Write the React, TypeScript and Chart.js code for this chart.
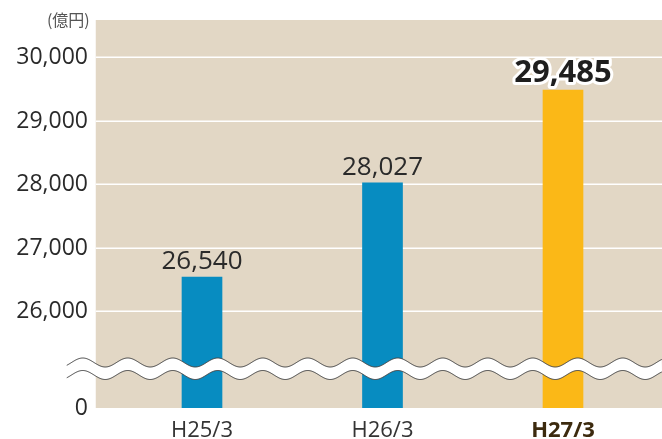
import React, { useEffect, useRef } from "react";
import { Chart, registerables } from "chart.js";

Chart.register(...registerables);

const categories = ["H25/3", "H26/3", "H27/3"];
const values = [26540, 28027, 29485];
const barColors = ["#078cc1", "#078cc1", "#fbb817"];
const yTickValues = [26000, 27000, 28000, 29000, 30000];
const breakBaseValue = 24480; // value shown as "0" below the axis break
const yMaxValue = 30590;
const unitLabel = "(億円)";
const highlightIndex = 2;

const FONT = "'Open Sans', 'Noto Sans', 'Noto Sans CJK JP', sans-serif";
const BG = "#e2d7c5";

const decorPlugin = {
  id: "decor",
  beforeDraw(chart: any) {
    const { ctx, chartArea, scales } = chart;
    const y = scales.y;
    const left = chartArea.left - 16;
    const right = chart.width;
    ctx.save();
    ctx.fillStyle = BG;
    ctx.fillRect(left, chartArea.top, right - left, chartArea.bottom - chartArea.top);
    ctx.strokeStyle = "#ffffff";
    ctx.lineWidth = 1.5;
    yTickValues.forEach((v) => {
      const py = Math.round(y.getPixelForValue(v)) + 0.25;
      ctx.beginPath();
      ctx.moveTo(left, py);
      ctx.lineTo(right, py);
      ctx.stroke();
    });
    // unit label
    ctx.fillStyle = "#555555";
    ctx.font = `16px 'Noto Sans CJK JP', ${FONT}`;
    ctx.textAlign = "right";
    ctx.textBaseline = "middle";
    ctx.fillText(unitLabel, chartArea.left - 22, chartArea.top);
    ctx.restore();
  },
  afterDatasetsDraw(chart: any) {
    const { ctx, chartArea } = chart;
    const meta = chart.getDatasetMeta(0);
    ctx.save();
    // value labels
    meta.data.forEach((bar: any, i: number) => {
      const text = values[i].toLocaleString("en-US");
      ctx.textAlign = "center";
      ctx.textBaseline = "alphabetic";
      if (i === highlightIndex) {
        ctx.font = `bold 31px ${FONT}`;
        ctx.lineJoin = "round";
        ctx.lineWidth = 6;
        ctx.strokeStyle = "#ffffff";
        ctx.strokeText(text, bar.x, bar.y - 8);
        ctx.fillStyle = "#1e1e1e";
        ctx.fillText(text, bar.x, bar.y - 8);
      } else {
        ctx.font = `26px ${FONT}`;
        ctx.fillStyle = "#2a2a2a";
        ctx.fillText(text, bar.x, bar.y - 8);
      }
    });
    // axis break waves
    const x0 = chartArea.left - 45;
    const x1 = chart.width;
    const upper = chartArea.bottom - 45.5;
    const lower = chartArea.bottom - 33;
    const amp = 4.5;
    const period = 45;
    const phase = chartArea.left - 29;
    const wy = (x: number, c: number) => c - amp * Math.cos((2 * Math.PI * (x - phase)) / period);
    ctx.beginPath();
    for (let x = x0; x <= x1; x += 1) {
      const py = wy(x, upper);
      if (x === x0) ctx.moveTo(x, py);
      else ctx.lineTo(x, py);
    }
    for (let x = x1; x >= x0; x -= 1) ctx.lineTo(x, wy(x, lower));
    ctx.closePath();
    ctx.fillStyle = "#ffffff";
    ctx.fill();
    ctx.strokeStyle = "#444444";
    ctx.lineWidth = 1;
    [upper, lower].forEach((c) => {
      ctx.beginPath();
      for (let x = x0; x <= x1; x += 1) {
        const py = wy(x, c);
        if (x === x0) ctx.moveTo(x, py);
        else ctx.lineTo(x, py);
      }
      ctx.stroke();
    });
    ctx.restore();
  },
};

export default function App() {
  const ref = useRef<HTMLCanvasElement>(null);
  useEffect(() => {
    document.body.style.margin = "0";
    const chart = new Chart(ref.current!, {
      type: "bar",
      data: {
        labels: categories,
        datasets: [
          {
            data: values,
            backgroundColor: barColors,
            barThickness: 40,
            borderWidth: 0,
          },
        ],
      },
      options: {
        animation: false,
        responsive: true,
        maintainAspectRatio: false,
        layout: { padding: { top: 20, right: 8.75, left: 0, bottom: 0 } },
        plugins: { legend: { display: false }, tooltip: { enabled: false } },
        scales: {
          x: {
            grid: { display: false, drawTicks: false },
            border: { display: false },
            ticks: {
              padding: 9.5,
              color: (c: any) => (c.index === highlightIndex ? "#3c2a0e" : "#333333"),
              font: (c: any) =>
                c.index === highlightIndex
                  ? { family: FONT, size: 22, weight: "bold" }
                  : { family: FONT, size: 22 },
            },
            afterFit: (s: any) => {
              s.height = 31;
              s.paddingLeft = 0;
              s.paddingRight = 0;
            },
          },
          y: {
            min: breakBaseValue,
            max: yMaxValue,
            grid: { display: false, drawTicks: false },
            border: { display: false },
            afterBuildTicks: (s: any) => {
              s.ticks = [breakBaseValue, ...yTickValues].map((v) => ({ value: v }));
            },
            ticks: {
              padding: 23.75,
              color: "#2a2a2a",
              font: { family: FONT, size: 23 },
              callback: (v: any) => (v === breakBaseValue ? "0" : Number(v).toLocaleString("en-US")),
            },
            afterFit: (s: any) => {
              s.width = 111.75;
              s.paddingTop = 0;
              s.paddingBottom = 0;
            },
          },
        },
      },
      plugins: [decorPlugin],
    });
    return () => chart.destroy();
  }, []);
  return (
    <div style={{ width: 662, height: 439, position: "relative" }}>
      <canvas ref={ref} />
    </div>
  );
}
